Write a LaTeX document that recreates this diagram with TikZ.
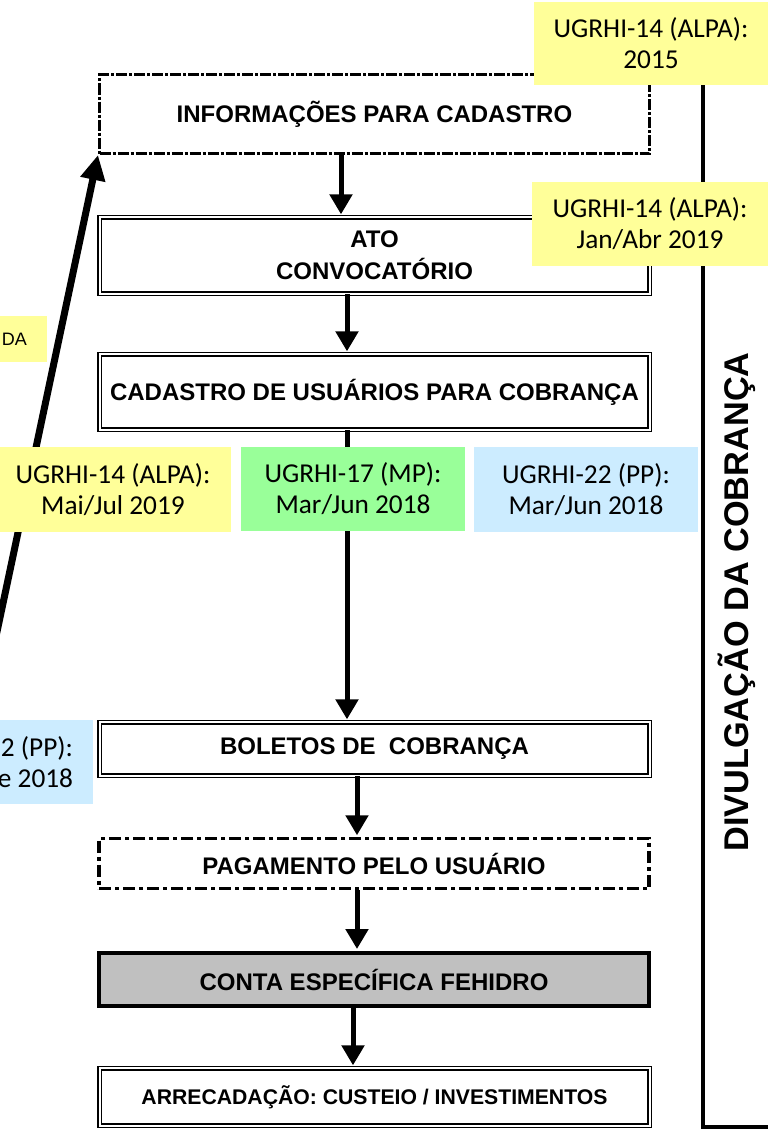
\documentclass[tikz,border=0pt]{standalone}
\usepackage{fontspec}
\setmainfont{Liberation Sans}
\newfontfamily\calfont{Carlito}
\usetikzlibrary{arrows.meta}
\definecolor{lyellow}{HTML}{FFFF99}
\definecolor{lgreen}{HTML}{99FF99}
\definecolor{lblue}{HTML}{CCECFF}
\definecolor{lgray}{HTML}{C0C0C0}
\begin{document}
\begin{tikzpicture}[x=1pt,y=-1pt,
  boxtext/.style={font=\fontsize{24}{32}\selectfont\bfseries, align=center, inner sep=0pt, minimum width=550pt, fill=white},
  dblbox/.style={boxtext, draw, line width=1.3pt, double, double distance=2pt},
  dashbox/.style={boxtext, draw, line width=3pt, dash pattern=on 11pt off 2pt on 3pt off 2pt},
  ddbox/.style={boxtext, draw, line width=3.3pt, dash pattern=on 12pt off 4pt on 4pt off 4pt},
  graybox/.style={boxtext, draw, fill=lgray, line width=4pt},
  flow/.style={line width=5pt, -{Triangle[width=22pt,length=20pt]}},
  bigflow/.style={line width=7pt, -{Triangle[width=24pt,length=25pt]}},
  tagfont/.style={font=\calfont\fontsize{27.3}{31}\selectfont},
  tag/.style={tagfont, align=center, inner sep=0pt, minimum height=84pt},
  plain/.style={inner sep=0pt, minimum height=84pt}
]
\useasboundingbox (0,0) rectangle (768,1132);
\clip (0,0) rectangle (768,1132);

% bracket on the right
\coordinate (brT) at (703,75);
\coordinate (brB) at (703,1127);
\coordinate (brR) at (775,1127);
\draw[line width=4pt] (brT) -- (brB) -- (brR);

% main boxes
\node[dashbox, minimum height=79pt] (b1) at (374.5,114) {INFORMAÇÕES PARA CADASTRO};
\node[dblbox, minimum height=76.4pt] (b2) at (374.5,255.5) {ATO\\CONVOCATÓRIO};
\node[dblbox, minimum height=75.4pt] (b3) at (374.5,392) {CADASTRO DE USUÁRIOS PARA COBRANÇA};
\node[dblbox, minimum height=53.4pt] (b4) at (374.5,749) {BOLETOS DE\ \ COBRANÇA};
\node[ddbox, minimum height=50pt] (b5) at (374,863.5) {PAGAMENTO PELO USUÁRIO};
\node[graybox, minimum height=53pt] (b6) at (374,979.5) {CONTA ESPECÍFICA FEHIDRO};
\node[dblbox, minimum height=57.4pt, font=\fontsize{21.2}{24}\selectfont\bfseries] (b7) at (374.5,1097) {ARRECADAÇÃO: CUSTEIO / INVESTIMENTOS};

% vertical arrows
\draw[flow, shorten >=2.3pt] ([xshift=-33.5pt]b1.south) -- ([xshift=-33.5pt]b2.north);
\draw[flow, shorten >=2.3pt] ([xshift=-27.5pt]b2.south) -- ([xshift=-27.5pt]b3.north);
\draw[flow, shorten >=2.3pt] ([xshift=-27.5pt]b3.south) -- ([xshift=-27.5pt]b4.north);
\draw[flow, shorten >=1.6pt] ([xshift=-17.5pt]b4.south) -- ([xshift=-17pt]b5.north);
\draw[flow, shorten >=2pt] ([xshift=-17pt]b5.south) -- ([xshift=-17pt]b6.north);
\draw[flow, shorten >=2.3pt] ([xshift=-21pt]b6.south) -- ([xshift=-21.5pt]b7.north);

% big diagonal arrow
\coordinate (bs) at (-9,660);
\draw[bigflow] (bs) -- (b1.south west);

% labels
\node[tag, fill=lyellow, minimum width=234pt, minimum height=83pt] (t1) at (651,43.5) {UGRHI-14 (ALPA):\\2015};
\node[tag, fill=lyellow, minimum width=236pt] (t2) at (650,224) {UGRHI-14 (ALPA):\\Jan/Abr 2019};
\node[tag, fill=lyellow, minimum width=236pt, minimum height=85pt] (t3) at (113,489.5) {UGRHI-14 (ALPA):\\Mai/Jul 2019};
\node[tag, fill=lgreen, minimum width=224pt] (t4) at (353,489) {UGRHI-17 (MP):\\Mar/Jun 2018};
\node[tag, fill=lblue, minimum width=224pt, minimum height=85pt] (t5) at (586,489.5) {UGRHI-22 (PP):\\Mar/Jun 2018};

\node[plain, fill=lblue, minimum width=224pt] (t6) at (-19,762) {};
\node[tagfont, align=right, inner sep=0pt, anchor=east] (t6t) at ([xshift=-20pt]t6.east) {2 (PP):\\e 2018};

\node[plain, fill=lyellow, minimum width=60pt, minimum height=46pt] (t7) at (17,339) {};
\node[font=\fontsize{18}{20}\selectfont, inner sep=0pt, anchor=east] (t7t) at ([xshift=-20pt]t7.east) {DA};

% vertical text
\node[rotate=90, font=\fontsize{34.3}{36}\selectfont\bfseries, inner sep=0pt] (vt) at (737,602) {DIVULGAÇÃO DA COBRANÇA};
\end{tikzpicture}
\end{document}
